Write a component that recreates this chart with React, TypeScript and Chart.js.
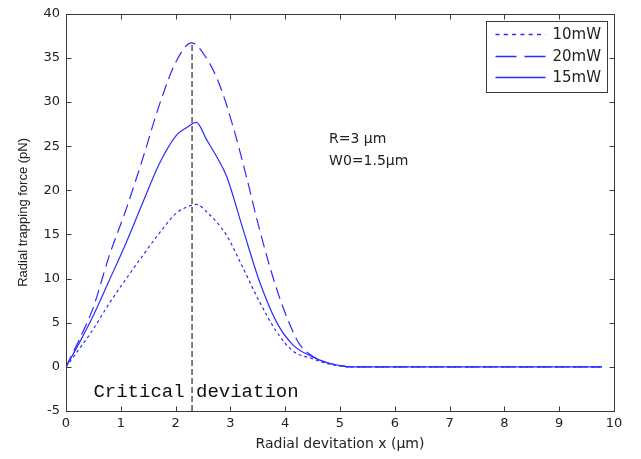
import React, { useEffect, useRef } from "react";
import { Chart, registerables } from "chart.js";

Chart.register(...registerables);

// ---- data ----
const seriesLabels = ["10mW", "20mW", "15mW"];

const x10 = [0, 0.25, 0.49, 0.79, 1.1, 1.4, 1.71, 2.01, 2.2, 2.38, 2.56, 2.93, 3.23, 3.53, 3.84, 4.14, 4.51, 4.75, 5.0, 5.2, 6, 7, 8, 9, 9.78];
const force10 = [0, 2.1, 4.2, 7.2, 10.0, 12.6, 15.2, 17.4, 18.1, 18.4, 17.6, 14.9, 11.2, 7.4, 4.0, 1.8, 0.9, 0.4, 0.1, 0, 0, 0, 0, 0, 0];

const x20 = [0, 0.25, 0.49, 0.79, 1.1, 1.4, 1.71, 2.01, 2.29, 2.56, 2.8, 3.05, 3.29, 3.53, 3.84, 4.14, 4.27, 4.5, 4.75, 5.0, 5.2, 6, 7, 8, 9, 9.78];
const force20 = [0, 3.2, 6.6, 12.6, 17.9, 23.6, 29.8, 34.6, 36.7, 35.0, 32.0, 27.2, 21.6, 15.6, 8.9, 4.0, 2.5, 1.2, 0.5, 0.15, 0, 0, 0, 0, 0, 0];

const x15 = [0, 0.25, 0.49, 0.79, 1.1, 1.4, 1.71, 2.01, 2.2, 2.38, 2.56, 2.75, 2.93, 3.23, 3.53, 3.84, 4.14, 4.51, 4.75, 5.0, 5.2, 6, 7, 8, 9, 9.78];
const force15 = [0, 2.8, 5.7, 9.8, 14.1, 18.6, 23.1, 26.2, 27.1, 27.7, 25.8, 23.8, 21.6, 15.6, 9.7, 5.1, 2.5, 1.1, 0.5, 0.15, 0, 0, 0, 0, 0, 0];

const criticalX = [2.3, 2.3];
const criticalY = [-5, 36.7];

const xTickValues = [0, 1, 2, 3, 4, 5, 6, 7, 8, 9, 10];
const yTickValues = [-5, 0, 5, 10, 15, 20, 25, 30, 35, 40];

const xTitle = "Radial devitation x (μm)";
const yTitle = "Radial trapping force (pN)";
const paramLines = ["R=3 μm", "W0=1.5μm"];
const paramPos = { x: 4.8, y: [25.8, 23.3] };
const criticalLabel = "Critical deviation";
const criticalLabelPos = { x: 0.5, y: -2.85 };

const BLUE = "#2b2bff";
const AXIS = "#3a3a3a";
const TXT = "#222222";

const toPts = (xs: number[], ys: number[]) => xs.map((x, i) => ({ x, y: ys[i] }));

const dashes: Record<string, number[]> = {
  "10mW": [3, 3],
  "20mW": [12, 6],
  "15mW": [],
};
const legendDashes: Record<string, number[]> = {
  "10mW": [4, 4.3],
  "20mW": [21, 8],
  "15mW": [],
};

const decorPlugin = {
  id: "decor",
  afterDatasetsDraw(chart: any) {
    const { ctx, chartArea: a, scales } = chart;
    const xs = scales.x;
    const ys = scales.y;
    ctx.save();
    ctx.strokeStyle = AXIS;
    ctx.lineWidth = 1;
    ctx.setLineDash([]);
    const L = Math.round(a.left) + 0.5;
    const R = Math.round(a.right) + 0.5;
    const T = Math.round(a.top) + 0.5;
    const B = Math.round(a.bottom) + 0.5;
    ctx.strokeRect(L, T, R - L, B - T);
    ctx.beginPath();
    xTickValues.forEach((v) => {
      const px = Math.round(xs.getPixelForValue(v)) + 0.5;
      ctx.moveTo(px, B);
      ctx.lineTo(px, B - 5);
      ctx.moveTo(px, T);
      ctx.lineTo(px, T + 5);
    });
    yTickValues.forEach((v) => {
      const py = Math.round(ys.getPixelForValue(v)) + 0.5;
      ctx.moveTo(L, py);
      ctx.lineTo(L + 5, py);
      ctx.moveTo(R, py);
      ctx.lineTo(R - 5, py);
    });
    ctx.stroke();

    ctx.fillStyle = TXT;
    ctx.font = "14px 'DejaVu Sans'";
    ctx.textAlign = "left";
    ctx.textBaseline = "middle";
    paramLines.forEach((t, i) => {
      ctx.fillText(t, xs.getPixelForValue(paramPos.x), ys.getPixelForValue(paramPos.y[i]));
    });

    ctx.fillStyle = "#111";
    ctx.font = "19px 'Liberation Mono'";
    ctx.fillText(criticalLabel, xs.getPixelForValue(criticalLabelPos.x), ys.getPixelForValue(criticalLabelPos.y));

    const bx = Math.round(a.right) - 128 + 0.5;
    const by = Math.round(a.top) + 7 + 0.5;
    const bw = 121;
    const bh = 71;
    ctx.fillStyle = "#fff";
    ctx.fillRect(bx, by, bw, bh);
    ctx.strokeStyle = AXIS;
    ctx.lineWidth = 1;
    ctx.strokeRect(bx, by, bw, bh);
    const rows = [13, 35, 56];
    chart.data.datasets.forEach((ds: any, i: number) => {
      if (i >= seriesLabels.length) return;
      const yy = by + rows[i];
      ctx.strokeStyle = BLUE;
      ctx.lineWidth = 1.3;
      ctx.setLineDash(legendDashes[ds.label] || []);
      ctx.beginPath();
      ctx.moveTo(bx + 9, yy);
      ctx.lineTo(bx + 59, yy);
      ctx.stroke();
      ctx.setLineDash([]);
      ctx.fillStyle = TXT;
      ctx.font = "15px 'DejaVu Sans'";
      ctx.textBaseline = "middle";
      ctx.fillText(ds.label, bx + 66, yy + 1);
    });
    ctx.restore();
  },
};

export default function App() {
  const ref = useRef<HTMLCanvasElement | null>(null);

  useEffect(() => {
    if (!ref.current) return;
    const seriesX = [x10, x20, x15];
    const seriesY = [force10, force20, force15];
    const chart = new Chart(ref.current, {
      type: "line",
      data: {
        datasets: [
          ...seriesLabels.map((label, i) => ({
            label,
            data: toPts(seriesX[i], seriesY[i]),
            borderColor: BLUE,
            borderWidth: 1.2,
            borderDash: dashes[label],
            pointRadius: 0,
            fill: false,
            cubicInterpolationMode: "monotone" as const,
          })),
          {
            label: "critical",
            data: toPts(criticalX, criticalY),
            borderColor: "#000",
            borderWidth: 1,
            borderDash: [6, 3],
            pointRadius: 0,
            fill: false,
          },
        ],
      },
      options: {
        animation: false,
        responsive: true,
        maintainAspectRatio: false,
        layout: { padding: { left: 0, right: 27, top: 9, bottom: 0 } },
        plugins: {
          legend: { display: false },
          tooltip: { enabled: false },
        },
        scales: {
          x: {
            type: "linear",
            min: 0,
            max: 10,
            afterBuildTicks: (s: any) => {
              s.ticks = xTickValues.map((v) => ({ value: v }));
            },
            afterFit: (s: any) => {
              s.height = 48;
            },
            grid: { display: false, drawTicks: false },
            border: { display: false },
            ticks: {
              color: TXT,
              font: { family: "'DejaVu Sans'", size: 13 },
              padding: 5,
              maxRotation: 0,
              autoSkip: false,
            },
            title: {
              display: true,
              text: xTitle,
              color: TXT,
              font: { family: "'DejaVu Sans'", size: 14 },
              padding: { top: 0, bottom: 6.6 },
            },
          },
          y: {
            type: "linear",
            min: -5,
            max: 40,
            afterBuildTicks: (s: any) => {
              s.ticks = yTickValues.map((v) => ({ value: v }));
            },
            afterFit: (s: any) => {
              s.width = 66;
            },
            grid: { display: false, drawTicks: false },
            border: { display: false },
            ticks: {
              color: TXT,
              font: { family: "'DejaVu Sans'", size: 13 },
              padding: 6,
              autoSkip: false,
            },
            title: {
              display: true,
              text: yTitle,
              color: TXT,
              font: { family: "'Liberation Sans'", size: 13 },
              padding: { top: 15.2, bottom: 0 },
            },
          },
        },
      },
      plugins: [decorPlugin],
    });
    return () => chart.destroy();
  }, []);

  return (
    <div style={{ position: "absolute", left: 0, top: 0, width: 641, height: 459, background: "#fff" }}>
      <canvas ref={ref} />
    </div>
  );
}
